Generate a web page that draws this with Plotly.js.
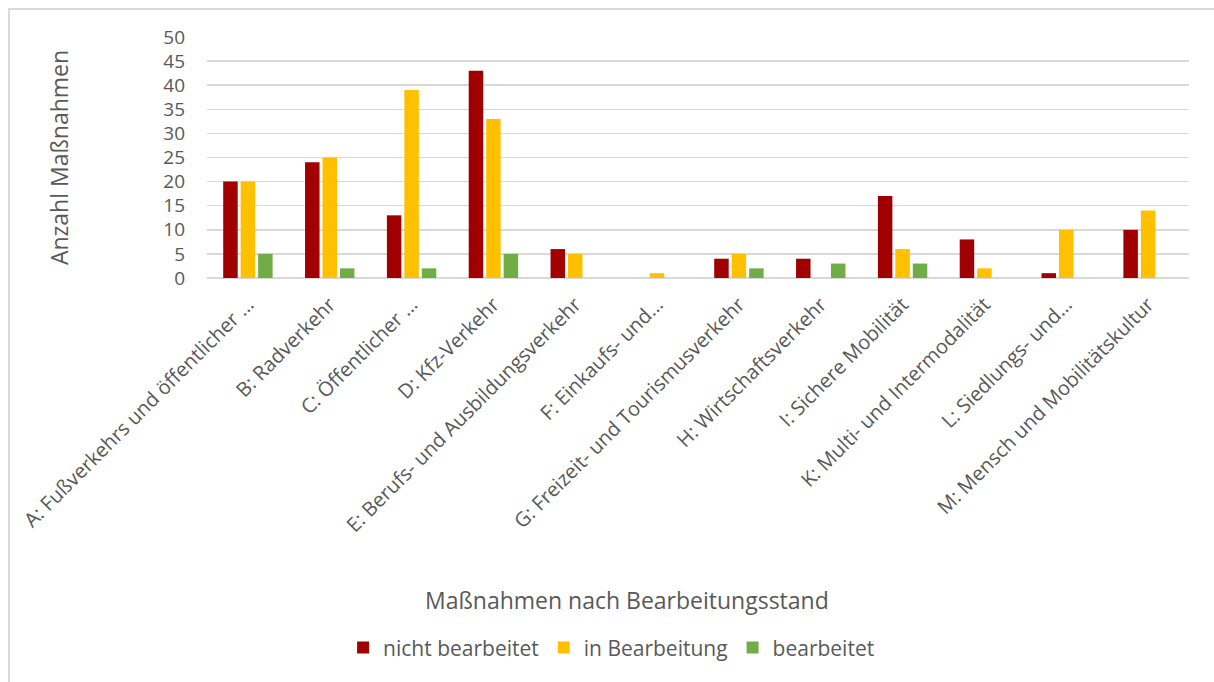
<!DOCTYPE html>
<html>
<head>
<meta charset="utf-8">
<script src="https://cdn.plot.ly/plotly-3.0.1.min.js"></script>
<style>
  html, body { margin: 0; padding: 0; background: #ffffff; }
  #wrap { position: relative; width: 1214px; height: 682px; overflow: hidden; }
  #chart { width: 1214px; height: 682px; }
  #frame { position: absolute; left: 8px; top: 8px; width: 1300px; height: 800px;
           border-left: 2px solid #d9d9d9; border-top: 2px solid #d9d9d9; pointer-events: none; }
</style>
</head>
<body>
<div id="wrap">
  <div id="chart"></div>
  <div id="frame"></div>
</div>
<script>
const categories = [
  "A: Fußverkehrs und öffentlicher …",
  "B: Radverkehr",
  "C: Öffentlicher …",
  "D: Kfz-Verkehr",
  "E: Berufs- und Ausbildungsverkehr",
  "F: Einkaufs- und…",
  "G: Freizeit- und Tourismusverkehr",
  "H: Wirtschaftsverkehr",
  "I: Sichere Mobilität",
  "K: Multi- und Intermodalität",
  "L: Siedlungs- und…",
  "M: Mensch und Mobilitätskultur"
];
const nichtBearbeitet = [20, 24, 13, 43, 6, 0, 4, 4, 17, 8, 1, 10];
const inBearbeitung   = [20, 25, 39, 33, 5, 1, 5, 0, 6, 2, 10, 14];
const bearbeitet      = [5, 2, 2, 5, 0, 0, 2, 3, 3, 0, 0, 0];
const seriesNames = ["nicht bearbeitet", "in Bearbeitung", "bearbeitet"];
const yTickVals = [0, 5, 10, 15, 20, 25, 30, 35, 40, 45, 50];
const xTitle = "Maßnahmen nach Bearbeitungsstand";
const yTitle = "Anzahl Maßnahmen";

const FONT = "'Open Sans', 'Noto Sans', sans-serif";
const GREY = "#595959";

const traces = [
  { type: "bar", name: seriesNames[0], x: categories, y: nichtBearbeitet, marker: { color: "#A00000" } },
  { type: "bar", name: seriesNames[1], x: categories, y: inBearbeitung,   marker: { color: "#FFC000" } },
  { type: "bar", name: seriesNames[2], x: categories, y: bearbeitet,      marker: { color: "#70AD47" } }
];

const layout = {
  width: 1214, height: 682,
  margin: { l: 207, r: 25, t: 37, b: 404 },
  paper_bgcolor: "#ffffff", plot_bgcolor: "#ffffff",
  font: { family: FONT, color: GREY },
  barmode: "group",
  bargap: 0.36,
  bargroupgap: 0.17,
  showlegend: true,
  legend: {
    orientation: "h", x: 0.412, xanchor: "center", y: -1.535, yanchor: "middle",
    font: { family: FONT, size: 21, color: GREY }, itemwidth: 30, traceorder: "normal"
  },
  xaxis: {
    type: "category",
    tickangle: -45,
    tickfont: { family: FONT, size: 20, color: GREY },
    ticks: "", ticklabelstandoff: 10,
    showgrid: false, showline: false, zeroline: false,
    automargin: false
  },
  yaxis: {
    range: [0, 50],
    tickvals: yTickVals,
    tickfont: { family: FONT, size: 19, color: GREY },
    ticks: "", ticklabelstandoff: 21,
    showgrid: true, gridcolor: "#d9d9d9", gridwidth: 1.5,
    zeroline: true, zerolinecolor: "#d9d9d9", zerolinewidth: 1.5,
    showline: false, automargin: false,
    title: { text: yTitle, font: { family: FONT, size: 23, color: GREY }, standoff: 88 }
  },
  annotations: [
    {
      text: xTitle, xref: "paper", yref: "paper",
      x: 0.428, xanchor: "center", y: -1.336, yanchor: "middle",
      showarrow: false, font: { family: FONT, size: 23, color: GREY }
    }
  ]
};

Plotly.newPlot("chart", traces, layout, { displayModeBar: false, staticPlot: true });
</script>
</body>
</html>
